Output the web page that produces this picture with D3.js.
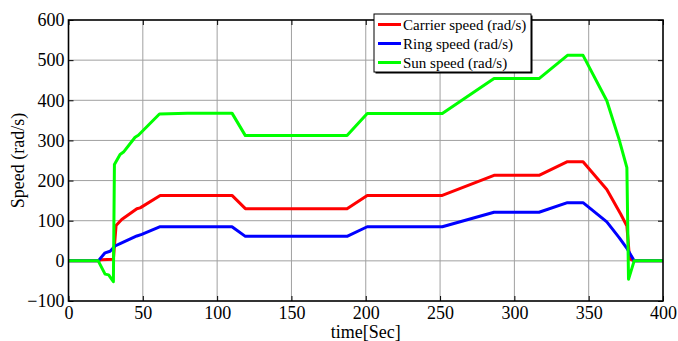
<!DOCTYPE html>
<html>
<head>
<meta charset="utf-8">
<script src="https://cdn.jsdelivr.net/npm/d3@7"></script>
<style>
  html, body { margin: 0; padding: 0; background: #fff; }
  svg { display: block; }
</style>
</head>
<body>
<svg id="chart" width="678" height="341" font-family="'Liberation Serif', 'Times New Roman', serif"></svg>
<script>
// Planetary gear speeds over the drive cycle (rad/s)
const carrierTime  = [0, 20, 22, 30.2, 32, 35.8, 46, 48.2, 61.7, 110, 119, 187.4, 201, 251.5, 286.3, 316.6, 335.7, 346.2, 362.2, 371.6, 375.7, 377.5, 380.6, 400];
const carrierSpeed = [0, 0, 3, 4, 88, 103, 130, 132, 163, 163, 130, 130, 163, 163, 213, 213, 247, 247, 178, 116, 87, 5, 0, 0];

const ringTime  = [0, 20, 24.6, 28, 31.3, 35.8, 46, 49.3, 61.7, 110, 119, 187.4, 201, 251.5, 286.3, 316.6, 335.7, 346.2, 362.2, 370.5, 376.1, 380.6, 400];
const ringSpeed = [0, 0, 20, 24, 37, 45, 62, 66, 85, 85, 61, 61, 85, 85, 121, 121, 145, 145, 97, 58, 29, 0, 0];

const sunTime  = [0, 20, 24.6, 27, 30.2, 30.9, 34.7, 37, 44.8, 47, 61.2, 80, 110, 119, 187.4, 201, 251.5, 286.3, 316.6, 335.7, 346.2, 362.2, 370.5, 375.7, 376.8, 380.6, 400];
const sunSpeed = [0, 0, -33, -35, -52, 240, 265, 271, 308, 313, 366, 368, 368, 312, 312, 367, 367, 454, 454, 512, 512, 399, 302, 232, -46, 0, 0];

const seriesNames  = ["Carrier speed (rad/s)", "Ring speed (rad/s)", "Sun speed (rad/s)"];
const seriesColors = ["#ff0000", "#0000ff", "#00ff00"];

const xTicks = [0, 50, 100, 150, 200, 250, 300, 350, 400];
const yTicks = [-100, 0, 100, 200, 300, 400, 500, 600];
const xLabel = "time[Sec]";
const yLabel = "Speed (rad/s)";

const serif = "'Liberation Serif', 'Times New Roman', serif";
const svg = d3.select("#chart");
const plotL = 68.5, plotR = 663, plotT = 20, plotB = 301;

const x = d3.scaleLinear().domain([0, 400]).range([plotL, plotR]);
const y = d3.scaleLinear().domain([-100, 600]).range([plotB, plotT]);

// grid
const grid = svg.append("g");
grid.selectAll(".gx").data(xTicks.slice(1, -1)).join("line")
  .attr("x1", d => x(d)).attr("x2", d => x(d))
  .attr("y1", plotT).attr("y2", plotB)
  .attr("stroke", "#a0a0a0").attr("stroke-width", 1);
grid.selectAll(".gy").data(yTicks.slice(1, -1)).join("line")
  .attr("x1", plotL).attr("x2", plotR)
  .attr("y1", d => y(d)).attr("y2", d => y(d))
  .attr("stroke", "#a0a0a0").attr("stroke-width", 1);

// axes (ticks inward on all four sides)
const tickLen = 5;
const axB = svg.append("g").attr("transform", `translate(0,${plotB})`)
  .call(d3.axisBottom(x).tickValues(xTicks).tickSize(-tickLen).tickPadding(5).tickFormat(d3.format("d")));
const axT = svg.append("g").attr("transform", `translate(0,${plotT})`)
  .call(d3.axisTop(x).tickValues(xTicks).tickSize(-tickLen).tickFormat(""));
const axL = svg.append("g").attr("transform", `translate(${plotL},0)`)
  .call(d3.axisLeft(y).tickValues(yTicks).tickSize(-tickLen).tickPadding(4).tickFormat(d3.format("d")));
const axR = svg.append("g").attr("transform", `translate(${plotR},0)`)
  .call(d3.axisRight(y).tickValues(yTicks).tickSize(-tickLen).tickFormat(""));

[axB, axT, axL, axR].forEach(a => {
  a.attr("font-family", serif).attr("font-size", 18);
  a.select(".domain").remove();
  a.selectAll(".tick line").attr("stroke", "#000").attr("stroke-width", 1);
  a.selectAll("text").attr("fill", "#000");
});

// series lines
const line = d3.line().x(d => x(d[0])).y(d => y(d[1]));
const series = [
  d3.zip(carrierTime, carrierSpeed),
  d3.zip(ringTime, ringSpeed),
  d3.zip(sunTime, sunSpeed)
];
series.forEach((pts, i) => {
  svg.append("path").datum(pts)
    .attr("d", line)
    .attr("fill", "none")
    .attr("stroke", seriesColors[i])
    .attr("stroke-width", 3)
    .attr("stroke-linejoin", "round");
});

// plot frame
svg.append("rect")
  .attr("x", plotL).attr("y", plotT)
  .attr("width", plotR - plotL).attr("height", plotB - plotT)
  .attr("fill", "none").attr("stroke", "#000").attr("stroke-width", 1.6);

// axis titles
svg.append("text")
  .attr("x", (plotL + plotR) / 2).attr("y", 338)
  .attr("text-anchor", "middle").attr("font-size", 18)
  .text(xLabel);
svg.append("text")
  .attr("transform", `translate(24,${(plotT + plotB) / 2}) rotate(-90)`)
  .attr("text-anchor", "middle").attr("font-size", 18)
  .text(yLabel);

// legend
const lg = svg.append("g");
lg.append("rect").attr("x", 375.5).attr("y", 15.5).attr("width", 157).attr("height", 58)
  .attr("fill", "#000");
lg.append("rect").attr("x", 374).attr("y", 14).attr("width", 157).attr("height", 58)
  .attr("fill", "#fff").attr("stroke", "#000").attr("stroke-width", 1);
seriesNames.forEach((name, i) => {
  const yy = 24.5 + i * 19;
  lg.append("line").attr("x1", 378).attr("x2", 401).attr("y1", yy).attr("y2", yy)
    .attr("stroke", seriesColors[i]).attr("stroke-width", 3);
  lg.append("text").attr("x", 403).attr("y", yy).attr("dy", "0.35em")
    .attr("font-size", 15).text(name);
});
</script>
</body>
</html>
